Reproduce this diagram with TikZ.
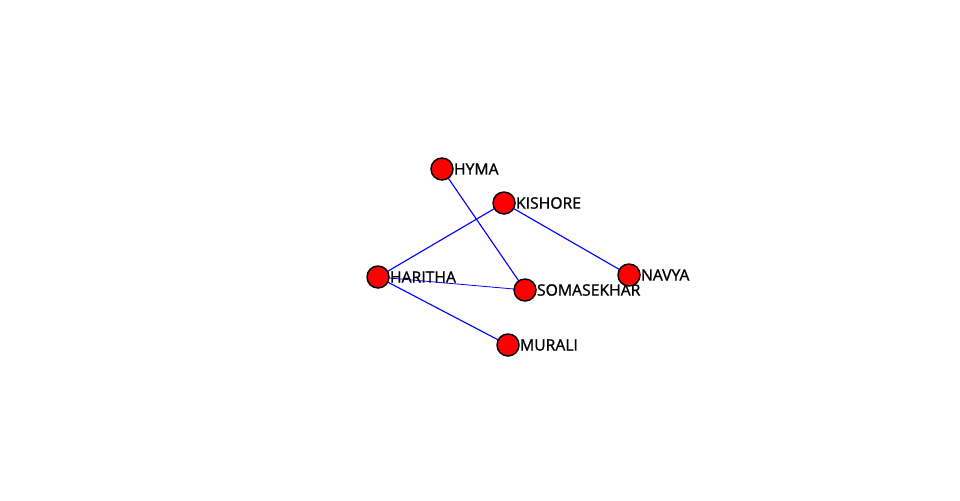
\documentclass[tikz,border=0pt]{standalone}
\usepackage{fontspec}
\setmainfont{Open Sans}
\newfontfamily\namefont[FakeBold=1.2]{Open Sans}
\usepackage{tikz}
\usetikzlibrary{backgrounds}

\begin{document}
\begin{tikzpicture}[
  x=0.75pt, y=-0.75pt,
  person/.style={circle, draw=black, fill=red, line width=1.1pt, minimum size=16.5pt, inner sep=0pt,
    label={[font=\namefont\fontsize{11.8}{13}\selectfont, inner sep=0.6pt, xshift=-0.6pt]right:#1}},
  link/.style={blue, line width=0.85pt}
]
\useasboundingbox (0,0) rectangle (960,500);

\node[person=HYMA] (hyma) at (442,169) {};
\node[person=KISHORE] (kishore) at (504,203) {};
\node[person=HARITHA] (haritha) at (378,277) {};
\node[person=SOMASEKHAR] (somasekhar) at (525,290) {};
\node[person=NAVYA] (navya) at (629,275) {};
\node[person=MURALI] (murali) at (508,345) {};

\begin{scope}[on background layer]
\draw[link] (hyma.center) -- (somasekhar.center);
\draw[link] (kishore.center) -- (haritha.center);
\draw[link] (kishore.center) -- (navya.center);
\draw[link, line width=0.6pt] (haritha.center) -- (somasekhar.center);
\draw[link] (haritha.center) -- (murali.center);
\end{scope}
\end{tikzpicture}
\end{document}
